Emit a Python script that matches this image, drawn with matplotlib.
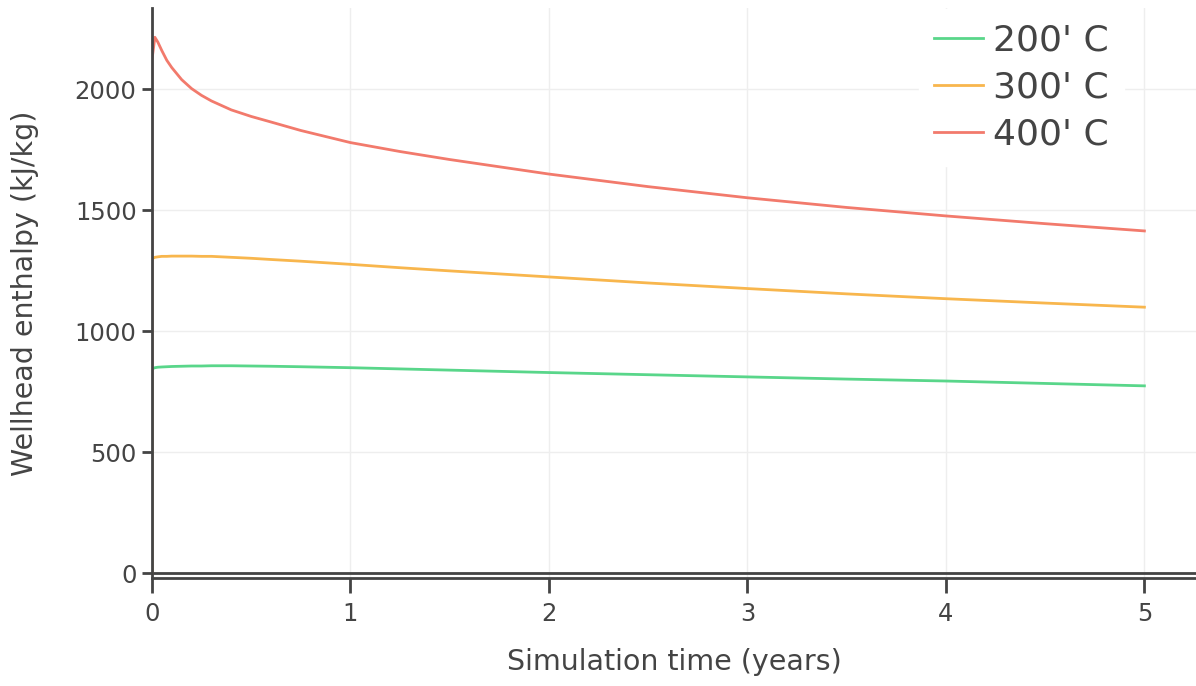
import matplotlib
matplotlib.use("Agg")
import matplotlib.pyplot as plt

# simulation time (years)
t = [0, 0.0, 0.015, 0.03, 0.05, 0.075, 0.1, 0.15, 0.2, 0.25, 0.3, 0.4, 0.5, 0.6, 0.75, 1.0, 1.25, 1.5, 2.0, 2.5, 3.0, 3.5, 4.0, 4.5, 5.0]

h200 = [0, 845, 850, 852, 853, 854, 855, 856, 857, 857, 858, 858, 857, 856, 854, 850, 845, 840, 830, 821, 812, 803, 795, 785, 775]
h300 = [0, 1300, 1306, 1308, 1310, 1310, 1311, 1311, 1311, 1310, 1310, 1306, 1302, 1297, 1290, 1277, 1263, 1250, 1225, 1200, 1177, 1155, 1135, 1117, 1100]
h400 = [0, 2120, 2215, 2195, 2160, 2120, 2090, 2040, 2003, 1975, 1952, 1915, 1888, 1865, 1830, 1780, 1743, 1710, 1650, 1598, 1552, 1512, 1477, 1445, 1415]

labels = ["200' C", "300' C", "400' C"]
colors = ["#59d68a", "#f8b64d", "#f27a6c"]

fig = plt.figure(figsize=(11.96, 6.86), dpi=100)
ax = fig.add_axes([0.127, 0.157, 0.873, 0.831])

for y, lab, c in zip([h200, h300, h400], labels, colors):
    ax.plot(t, y, color=c, lw=2, label=lab)

ax.set_xlim(0, 5.26)
ax.set_ylim(-20, 2335)
ax.set_xticks([0, 1, 2, 3, 4, 5])
ax.set_yticks([0, 500, 1000, 1500, 2000])
ax.grid(color="#eeeeee", lw=1)
ax.set_axisbelow(True)
ax.axhline(0, color="#444444", lw=2, zorder=1)

for s in ["top", "right"]:
    ax.spines[s].set_visible(False)
for s in ["left", "bottom"]:
    ax.spines[s].set_color("#444444")
    ax.spines[s].set_linewidth(2)

ax.tick_params(axis="y", length=7, width=2, color="#444444", labelsize=17.5, labelcolor="#444444", pad=4)
ax.tick_params(axis="x", length=11, width=2, color="#444444", labelsize=17.5, labelcolor="#444444", pad=6)

ax.set_xlabel("Simulation time (years)", fontsize=20.5, color="#444444", labelpad=16)
ax.set_ylabel("Wellhead enthalpy (kJ/kg)", fontsize=20.5, color="#444444", labelpad=26)

leg = ax.legend(loc="upper right", bbox_to_anchor=(0.948, 1.03), fontsize=26, frameon=True,
                handlelength=1.35, handletextpad=0.3, labelspacing=0.36, borderpad=0.4)
leg.get_frame().set_edgecolor("white")
leg.get_frame().set_alpha(1)
for txt in leg.get_texts():
    txt.set_color("#444444")

fig.savefig("out.png", dpi=100)
